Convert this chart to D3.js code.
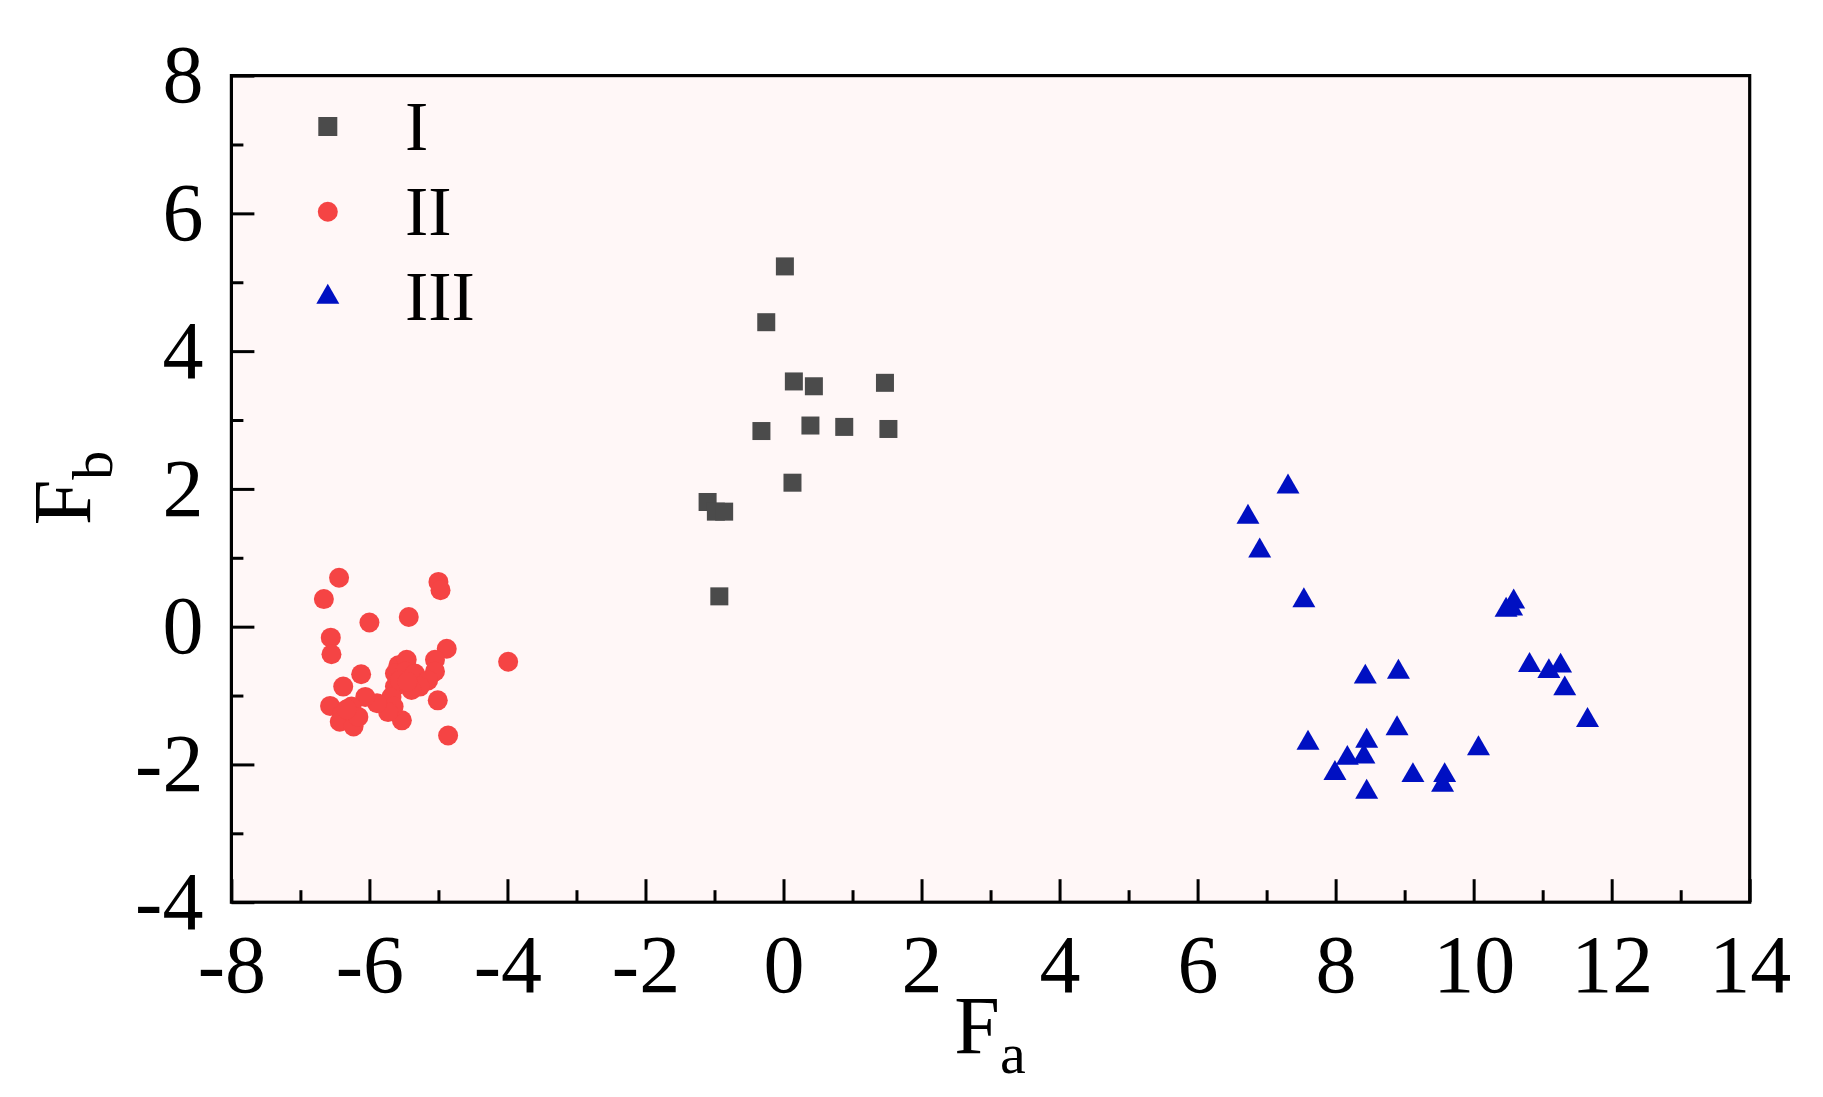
<!DOCTYPE html>
<html>
<head>
<meta charset="utf-8">
<script src="https://cdn.jsdelivr.net/npm/d3@7"></script>
<style>
  html, body { margin: 0; padding: 0; background: #ffffff; }
  svg { display: block; }
  text { font-family: "Liberation Serif", "Times New Roman", serif; fill: #000; }
</style>
</head>
<body>
<svg id="chart" width="1823" height="1097"></svg>
<script>
// ---- data ----
const groupNames = ["I", "II", "III"];
const groupI = [
  [0.02, 5.23], [-0.25, 4.42], [0.15, 3.56], [0.44, 3.49], [1.47, 3.54],
  [-0.32, 2.84], [0.39, 2.92], [0.88, 2.90], [1.52, 2.87], [0.13, 2.09],
  [-1.10, 1.81], [-0.98, 1.67], [-0.86, 1.67], [-0.93, 0.44]
];
const groupII = [
  [-6.44, 0.71], [-6.66, 0.40], [-5.00, 0.65], [-4.97, 0.53], [-6.00, 0.06],
  [-5.43, 0.14], [-6.56, -0.16], [-6.55, -0.40], [-4.88, -0.32], [-3.99, -0.51],
  [-6.12, -0.69], [-6.38, -0.87], [-6.57, -1.15], [-5.01, -1.07], [-4.86, -1.58],
  [-5.53, -1.36], [-5.58, -0.56], [-5.46, -0.48], [-5.63, -0.68], [-5.48, -0.65],
  [-5.34, -0.68], [-5.05, -0.48], [-5.05, -0.65], [-5.15, -0.78], [-5.27, -0.87],
  [-5.39, -0.92], [-5.63, -0.87], [-5.68, -1.02], [-5.65, -1.16], [-5.73, -1.24],
  [-5.89, -1.11], [-6.06, -1.02], [-6.26, -1.16], [-6.40, -1.28], [-6.43, -1.38],
  [-6.23, -1.45], [-6.16, -1.31], [-6.33, -1.20], [-5.56, -0.78], [-5.45, -0.80]
];
const groupIII = [
  [7.31, 2.03], [6.73, 1.59], [6.90, 1.10], [7.54, 0.38], [10.58, 0.36],
  [10.47, 0.24], [10.55, 0.26], [8.43, -0.73], [8.91, -0.66], [10.81, -0.56],
  [11.09, -0.65], [11.26, -0.57], [11.32, -0.90], [11.65, -1.36], [8.89, -1.48],
  [7.60, -1.69], [8.45, -1.66], [8.41, -1.89], [8.17, -1.91], [7.99, -2.13],
  [10.07, -1.77], [9.12, -2.16], [9.58, -2.16], [9.55, -2.30], [8.45, -2.40]
];
const xTicks = [-8, -6, -4, -2, 0, 2, 4, 6, 8, 10, 12, 14];
const xMinorTicks = [-7, -5, -3, -1, 1, 3, 5, 7, 9, 11, 13];
const yTicks = [-4, -2, 0, 2, 4, 6, 8];
const yMinorTicks = [-3, -1, 1, 3, 5, 7];
const xTitle = ["F", "a"];
const yTitle = ["F", "b"];

// ---- layout ----
const svg = d3.select("#chart");
const L = 231.4, R = 1749.7, T = 75.6, B = 902.2;
const x = d3.scaleLinear().domain([-8, 14]).range([L, R]);
const y = d3.scaleLinear().domain([-4, 8]).range([B, T]);

const colors = { I: "#4b4b4b", II: "#f54444", III: "#0010c2" };

// plot background
svg.append("rect").attr("x", L).attr("y", T).attr("width", R - L).attr("height", B - T)
  .attr("fill", "#fff7f7");

// points
const gPts = svg.append("g");
gPts.selectAll("rect.sq").data(groupI).join("rect")
  .attr("class", "sq")
  .attr("x", d => x(d[0]) - 9).attr("y", d => y(d[1]) - 9)
  .attr("width", 18).attr("height", 18)
  .attr("fill", colors.I);
gPts.selectAll("circle.ci").data(groupII).join("circle")
  .attr("class", "ci")
  .attr("cx", d => x(d[0])).attr("cy", d => y(d[1]))
  .attr("r", 10).attr("fill", colors.II);
const tri = d3.symbol().type(d3.symbolTriangle).size(229);
gPts.selectAll("path.tr").data(groupIII).join("path")
  .attr("class", "tr")
  .attr("d", tri)
  .attr("transform", d => `translate(${x(d[0])},${y(d[1])})`)
  .attr("fill", colors.III);

// axes
const fmt = d => String(d);
const tickFont = 82;

const xAxis = svg.append("g").attr("transform", `translate(0,${B})`)
  .call(d3.axisBottom(x).tickValues(xTicks).tickFormat(fmt).tickSizeInner(-23).tickSizeOuter(0).tickPadding(32));
const xMinor = svg.append("g").attr("transform", `translate(0,${B})`)
  .call(d3.axisBottom(x).tickValues(xMinorTicks).tickFormat("").tickSizeInner(-12).tickSizeOuter(0));
const yAxis = svg.append("g").attr("transform", `translate(${L},0)`)
  .call(d3.axisLeft(y).tickValues(yTicks).tickFormat(fmt).tickSizeInner(-23).tickSizeOuter(0).tickPadding(28));
const yMinor = svg.append("g").attr("transform", `translate(${L},0)`)
  .call(d3.axisLeft(y).tickValues(yMinorTicks).tickFormat("").tickSizeInner(-12).tickSizeOuter(0));

[xAxis, xMinor, yAxis, yMinor].forEach(g => {
  g.select(".domain").remove();
  g.selectAll(".tick line").attr("stroke", "#000").attr("stroke-width", 3);
  g.selectAll(".tick text").attr("font-size", tickFont)
    .attr("font-family", "'Liberation Serif', 'Times New Roman', serif").attr("fill", "#000");
});

// frame
svg.append("rect").attr("x", L).attr("y", T).attr("width", R - L).attr("height", B - T)
  .attr("fill", "none").attr("stroke", "#000").attr("stroke-width", 3.2);

// axis titles
const xt = svg.append("text").attr("x", 990).attr("y", 1053)
  .attr("text-anchor", "middle").attr("font-size", 82);
xt.append("tspan").text(xTitle[0]);
xt.append("tspan").attr("font-size", 58).attr("dy", 20).text(xTitle[1]);

const yt = svg.append("text").attr("transform", "translate(90,488) rotate(-90)")
  .attr("text-anchor", "middle").attr("font-size", 82);
yt.append("tspan").text(yTitle[0]);
yt.append("tspan").attr("font-size", 58).attr("dy", 22).text(yTitle[1]);

// legend
const legY = [126.5, 211.7, 297];
const lg = svg.append("g");
lg.append("rect").attr("x", 327.8 - 9.5).attr("y", legY[0] - 9.5).attr("width", 19).attr("height", 19).attr("fill", colors.I);
lg.append("circle").attr("cx", 327.8).attr("cy", legY[1]).attr("r", 10).attr("fill", colors.II);
lg.append("path").attr("d", tri).attr("transform", `translate(327.8,${legY[2]})`).attr("fill", colors.III);
const legBase = [150, 235, 320];
groupNames.forEach((n, i) => {
  lg.append("text").attr("x", 405).attr("y", legBase[i]).attr("font-size", 70).text(n);
});
</script>
</body>
</html>
